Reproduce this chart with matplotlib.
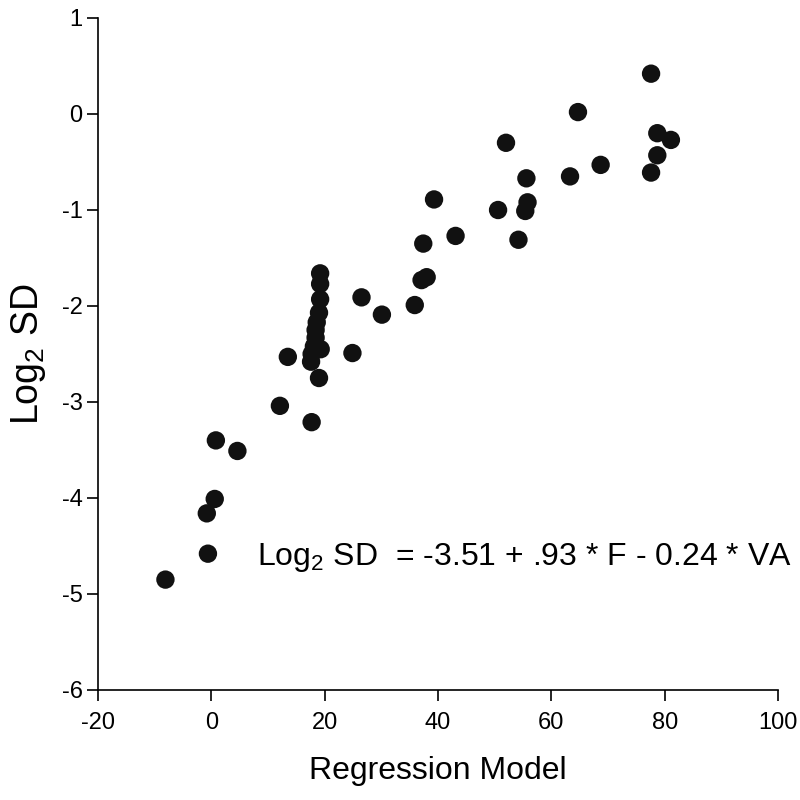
import matplotlib
matplotlib.use("Agg")
import matplotlib.pyplot as plt

plt.rcParams['font.family'] = ['Liberation Sans', 'DejaVu Sans']
plt.rcParams['mathtext.default'] = 'regular'
plt.rcParams['axes.unicode_minus'] = False

x_model = [-8.1, -0.6, -0.8, 0.6, 0.8, 4.6, 12.1, 13.5, 17.7, 19.0,
           24.9, 26.5, 30.1, 35.9, 37.1, 38.0, 37.4, 43.1, 39.3, 50.6,
           54.2, 55.4, 55.6, 55.8, 52.0, 63.3, 64.7, 68.7, 77.6, 78.7,
           78.7, 81.1, 77.6,
           19.2, 19.2, 19.2, 19.0, 18.6, 18.4, 18.4, 18.1, 19.3, 17.7, 17.6]
log2_sd = [-4.85, -4.58, -4.16, -4.01, -3.40, -3.51, -3.04, -2.53, -3.21, -2.75,
           -2.49, -1.91, -2.09, -1.99, -1.73, -1.70, -1.35, -1.27, -0.89, -1.00,
           -1.31, -1.01, -0.67, -0.92, -0.30, -0.65, 0.02, -0.53, -0.61, -0.20,
           -0.43, -0.27, 0.42,
           -1.66, -1.77, -1.93, -2.07, -2.17, -2.25, -2.33, -2.42, -2.45, -2.50, -2.58]

x_ticks = [-20, 0, 20, 40, 60, 80, 100]
y_ticks = [-6, -5, -4, -3, -2, -1, 0, 1]

fig = plt.figure(figsize=(8, 8), dpi=100)
ax = fig.add_axes([0.1225, 0.1375, 0.850, 0.84])
ax.scatter(x_model, log2_sd, s=175, color='#111111', edgecolors='none', zorder=3)
ax.set_xlim(-20, 100)
ax.set_ylim(-6, 1)
ax.set_xticks(x_ticks)
ax.set_yticks(y_ticks)
for s in ['top', 'right']:
    ax.spines[s].set_visible(False)
for s in ['left', 'bottom']:
    ax.spines[s].set_linewidth(1.2)
ax.tick_params(direction='out', length=8, width=1.2, labelsize=17)
ax.tick_params(axis='y', pad=3)
ax.tick_params(axis='x', pad=8)
ax.set_xlabel('Regression Model', fontsize=23, labelpad=16)
ax.set_ylabel('Log$_2$ SD', fontsize=27, labelpad=10)
ax.text(8, -4.62, 'Log$_2$ SD  = -3.51 + .93 * F - 0.24 * VA', fontsize=23,
        ha='left', va='center')
fig.savefig('out.png', dpi=100)
